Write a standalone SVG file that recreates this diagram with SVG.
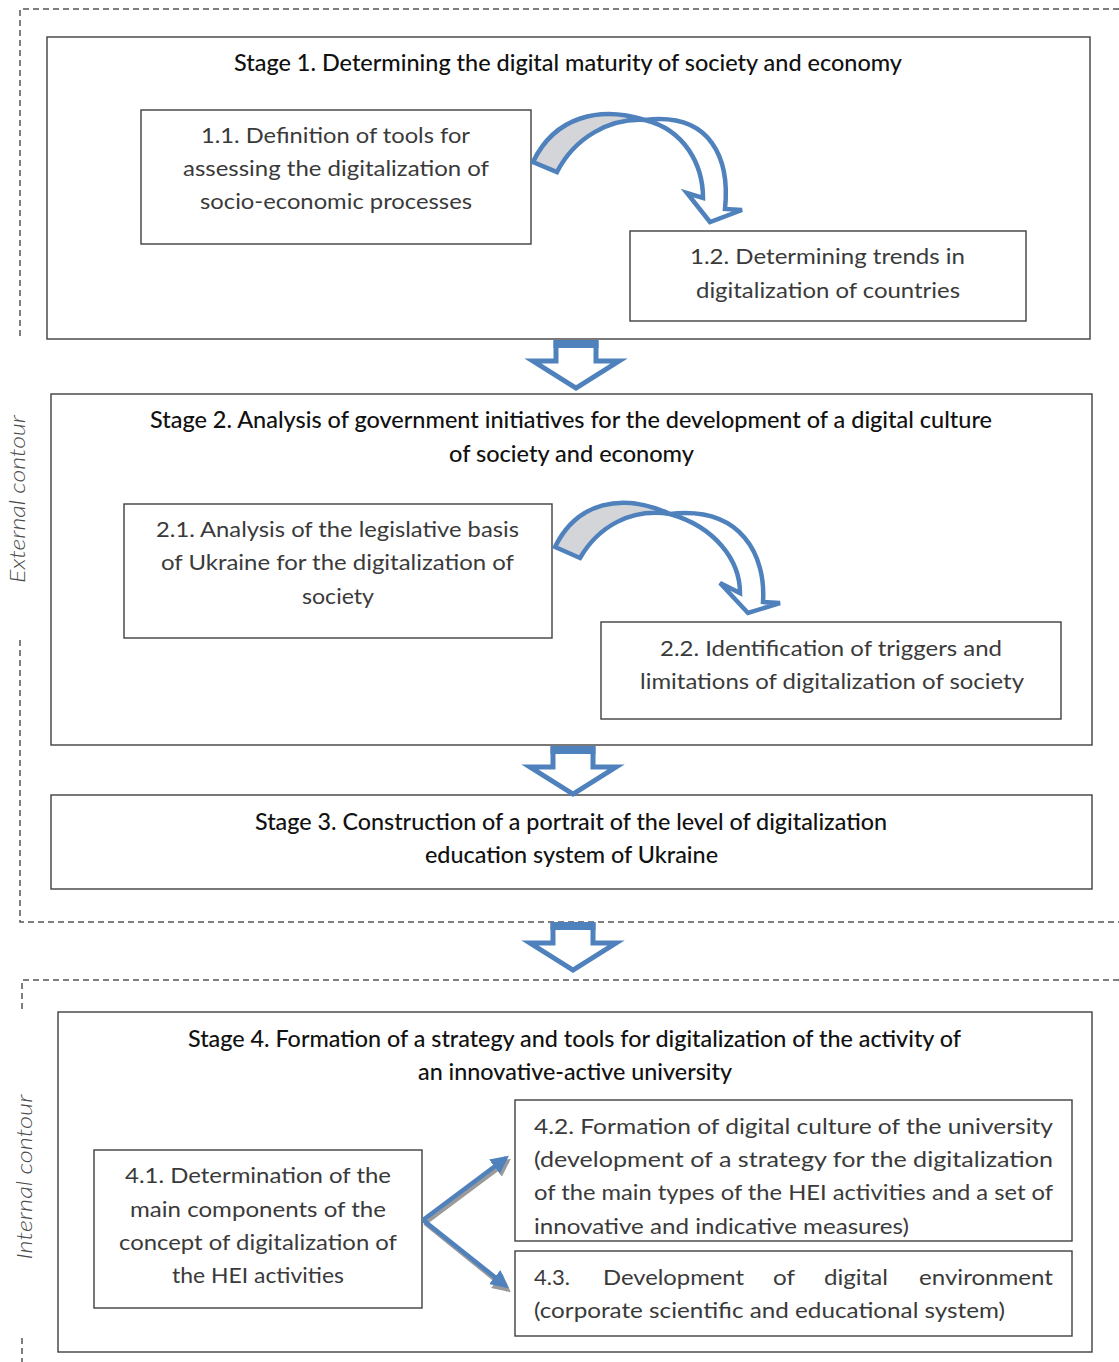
<svg xmlns="http://www.w3.org/2000/svg" width="1119" height="1362" viewBox="0 0 1119 1362">
  <style>
    .box { fill: #ffffff; stroke: #3f3f3f; stroke-width: 1.4; }
    .contour { fill: none; stroke: #555555; stroke-width: 1.5; stroke-dasharray: 6 4; }
    .title { font-family: Lato, "Liberation Sans", sans-serif; font-size: 23px; font-weight: 500; fill: #111111; text-anchor: middle; }
    .sub { font-family: Lato, "Liberation Sans", sans-serif; font-size: 21px; font-weight: 400; fill: #3a3a3a; text-anchor: middle; }
    .left { text-anchor: start; }
    .end { text-anchor: end; }
    .label { font-family: Lato, "Liberation Sans", sans-serif; font-size: 21px; font-weight: 300; font-style: italic; fill: #4a4a4a; text-anchor: middle; }
    .band { stroke: #4f81bd; stroke-width: 4.5; stroke-linejoin: miter; }
    .back { fill: #d4d5d8; }
    .front { fill: #ffffff; }
    .link { stroke: #4f81bd; stroke-width: 4.5; fill: none; }
    .shadow { stroke: #9a9a9a; stroke-width: 4.5; fill: none; }
  </style>
  <defs>
    <!-- hollow block arrow pointing down, origin at top centre -->
    <g id="downArrow">
      <polygon points="-20,3 20,3 20,21 43,21 0,48 -43,21 -20,21" fill="#ffffff" stroke="#4f81bd" stroke-width="5" stroke-linejoin="miter"/>
      <rect x="-22.5" y="0" width="45" height="8" fill="#4f81bd"/>
    </g>
    <marker id="head" viewBox="0 0 10 10" refX="8" refY="5" markerWidth="4" markerHeight="4" orient="auto" markerUnits="strokeWidth">
      <path d="M0,0 L10,5 L0,10 Z" fill="#4f81bd"/>
    </marker>
    <marker id="headShadow" viewBox="0 0 10 10" refX="8" refY="5" markerWidth="4" markerHeight="4" orient="auto" markerUnits="strokeWidth">
      <path d="M0,0 L10,5 L0,10 Z" fill="#9a9a9a"/>
    </marker>
  </defs>

  <!-- dashed contours -->
  <g id="contours">
    <path class="contour" d="M1119,9 H20 V338 M20,640 V922 H1119"/>
    <path class="contour" d="M1119,980 H22 V1012 M22,1338 V1362"/>
    <text class="label" transform="translate(25,499) rotate(-90)" textLength="168" lengthAdjust="spacingAndGlyphs">External contour</text>
    <text class="label" transform="translate(32,1177) rotate(-90)" textLength="165" lengthAdjust="spacingAndGlyphs">Internal contour</text>
  </g>

  <!-- Stage 1 -->
  <g id="stage1">
    <rect class="box" x="47" y="37" width="1043" height="302"/>
    <text class="title" x="568" y="71" textLength="668" lengthAdjust="spacingAndGlyphs">Stage 1. Determining the digital maturity of society and economy</text>
  </g>
  <g id="node1-1">
    <rect class="box" x="141" y="110" width="390" height="134"/>
    <text class="sub" x="335.5" y="143" textLength="269" lengthAdjust="spacingAndGlyphs">1.1. Definition of tools for</text>
    <text class="sub" x="336" y="176" textLength="306" lengthAdjust="spacingAndGlyphs">assessing the digitalization of</text>
    <text class="sub" x="336" y="209" textLength="272" lengthAdjust="spacingAndGlyphs">socio-economic processes</text>
  </g>
  <g id="node1-2">
    <rect class="box" x="630" y="231" width="396" height="90"/>
    <text class="sub" x="827.5" y="264" textLength="275" lengthAdjust="spacingAndGlyphs">1.2. Determining trends in</text>
    <text class="sub" x="828" y="298" textLength="264" lengthAdjust="spacingAndGlyphs">digitalization of countries</text>
  </g>

  <!-- Stage 2 -->
  <g id="stage2">
    <rect class="box" x="51" y="394" width="1041" height="351"/>
    <text class="title" x="571" y="428" textLength="842" lengthAdjust="spacingAndGlyphs">Stage 2. Analysis of government initiatives for the development of a digital culture</text>
    <text class="title" x="571.5" y="462" textLength="245" lengthAdjust="spacingAndGlyphs">of society and economy</text>
  </g>
  <g id="node2-1">
    <rect class="box" x="124" y="504" width="428" height="134"/>
    <text class="sub" x="337.5" y="537" textLength="363" lengthAdjust="spacingAndGlyphs">2.1. Analysis of the legislative basis</text>
    <text class="sub" x="337.5" y="570" textLength="353" lengthAdjust="spacingAndGlyphs">of Ukraine for the digitalization of</text>
    <text class="sub" x="338" y="604" textLength="72" lengthAdjust="spacingAndGlyphs">society</text>
  </g>
  <g id="node2-2">
    <rect class="box" x="601" y="622" width="460" height="97"/>
    <text class="sub" x="831" y="656" textLength="342" lengthAdjust="spacingAndGlyphs">2.2. Identification of triggers and</text>
    <text class="sub" x="832" y="689" textLength="384" lengthAdjust="spacingAndGlyphs">limitations of digitalization of society</text>
  </g>

  <!-- Stage 3 -->
  <g id="stage3">
    <rect class="box" x="51" y="795" width="1041" height="94"/>
    <text class="title" x="571" y="830" textLength="632" lengthAdjust="spacingAndGlyphs">Stage 3. Construction of a portrait of the level of digitalization</text>
    <text class="title" x="571.5" y="863" textLength="293" lengthAdjust="spacingAndGlyphs">education system of Ukraine</text>
  </g>

  <!-- Stage 4 -->
  <g id="stage4">
    <rect class="box" x="58" y="1012" width="1034" height="340"/>
    <text class="title" x="574.5" y="1047" textLength="773" lengthAdjust="spacingAndGlyphs">Stage 4. Formation of a strategy and tools for digitalization of the activity of</text>
    <text class="title" x="575" y="1080" textLength="314" lengthAdjust="spacingAndGlyphs">an innovative-active university</text>
  </g>
  <g id="node4-1">
    <rect class="box" x="94" y="1150" width="328" height="158"/>
    <text class="sub" x="258" y="1183" textLength="266" lengthAdjust="spacingAndGlyphs">4.1. Determination of the</text>
    <text class="sub" x="258" y="1217" textLength="256" lengthAdjust="spacingAndGlyphs">main components of the</text>
    <text class="sub" x="258" y="1250" textLength="278" lengthAdjust="spacingAndGlyphs">concept of digitalization of</text>
    <text class="sub" x="258" y="1283" textLength="172" lengthAdjust="spacingAndGlyphs">the HEI activities</text>
  </g>
  <g id="node4-2">
    <rect class="box" x="515" y="1100" width="557" height="141"/>
    <text class="sub left" x="534" y="1134" textLength="519" lengthAdjust="spacingAndGlyphs">4.2. Formation of digital culture of the university</text>
    <text class="sub left" x="534" y="1167" textLength="519" lengthAdjust="spacingAndGlyphs">(development of a strategy for the digitalization</text>
    <text class="sub left" x="534" y="1200" textLength="519" lengthAdjust="spacingAndGlyphs">of the main types of the HEI activities and a set of</text>
    <text class="sub left" x="534" y="1234" textLength="375" lengthAdjust="spacingAndGlyphs">innovative and indicative measures)</text>
  </g>
  <g id="node4-3">
    <rect class="box" x="515" y="1251" width="557" height="85"/>
    <!-- justified first line: words spread across the box -->
    <text class="sub left" x="534" y="1285" textLength="36" lengthAdjust="spacingAndGlyphs">4.3.</text>
    <text class="sub left" x="603" y="1285" textLength="141" lengthAdjust="spacingAndGlyphs">Development</text>
    <text class="sub left" x="773" y="1285" textLength="22" lengthAdjust="spacingAndGlyphs">of</text>
    <text class="sub left" x="824" y="1285" textLength="64" lengthAdjust="spacingAndGlyphs">digital</text>
    <text class="sub left" x="919" y="1285" textLength="134" lengthAdjust="spacingAndGlyphs">environment</text>
    <text class="sub left" x="534" y="1318" textLength="471" lengthAdjust="spacingAndGlyphs">(corporate scientific and educational system)</text>
  </g>

  <!-- connectors -->
  <g id="connectors">
    <!-- curved arrow 1.1 -> 1.2 -->
    <path class="band back" d="M533,162 C555,116 600,106 645,120 C610,118 575,137 557,172 Z"/>
    <path class="band front" d="M645,120 C712,112 730,160 725,209 L742,210 L710,222 L687,193 L703,198 C703,165 685,130 645,120 Z"/>
    <!-- curved arrow 2.1 -> 2.2 -->
    <path class="band back" d="M555,547 C577,502 622,492 670,514 C630,508 598,527 580,558 Z"/>
    <path class="band front" d="M670,514 C742,506 766,556 763,602 L780,603 L748,613 L720,583 L740,593 C740,560 715,527 670,514 Z"/>

    <!-- block arrows between stages -->
    <use href="#downArrow" x="576" y="340"/>
    <use href="#downArrow" x="573" y="746"/>
    <use href="#downArrow" x="573" y="922"/>

    <!-- 4.1 fan-out to 4.2 and 4.3 -->
    <path class="shadow" d="M425,1223 L508,1161" marker-end="url(#headShadow)"/>
    <path class="shadow" d="M425,1223 L508,1290" marker-end="url(#headShadow)"/>
    <path class="link" d="M423,1220 L506,1158" marker-end="url(#head)"/>
    <path class="link" d="M423,1220 L506,1286" marker-end="url(#head)"/>
  </g>
</svg>
